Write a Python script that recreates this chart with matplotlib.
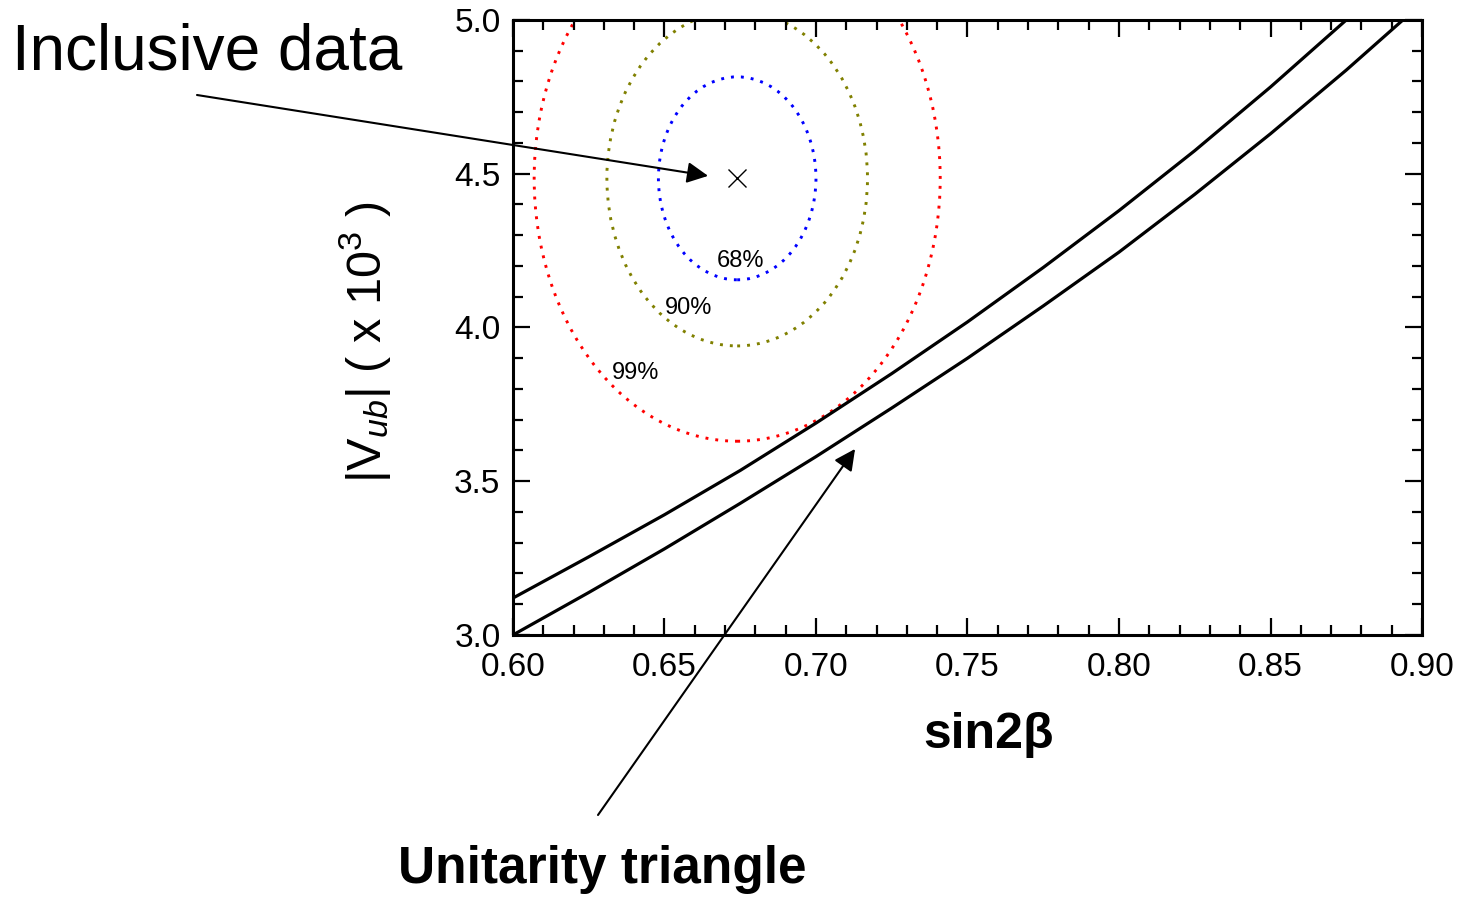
import matplotlib
matplotlib.use("Agg")
import matplotlib.pyplot as plt
from matplotlib.patches import Ellipse
from matplotlib.ticker import MultipleLocator, FormatStrFormatter

plt.rcParams['font.family'] = ['Liberation Sans', 'DejaVu Sans']
plt.rcParams['mathtext.fontset'] = 'custom'
plt.rcParams['mathtext.rm'] = 'Liberation Sans'
plt.rcParams['mathtext.it'] = 'Liberation Sans:italic'

# inclusive |Vub| vs sin2beta measurement
center_x = 0.674
center_y = 4.485
cl_labels = ['68%', '90%', '99%']
half_width = [0.026, 0.043, 0.067]
half_height = [0.33, 0.545, 0.855]
cl_colors = ['#0000ff', '#808000', '#ff0000']
label_x = [0.675, 0.658, 0.6405]
label_y = [4.216, 4.063, 3.852]

# unitarity triangle band edges
band_x = [0.600, 0.625, 0.650, 0.675, 0.700, 0.725, 0.750, 0.775, 0.800, 0.825, 0.850, 0.875, 0.900]
upper_y = [3.120, 3.254, 3.391, 3.535, 3.689, 3.850, 4.018, 4.195, 4.380, 4.575, 4.782, 5.000, 5.228]
lower_y = [3.000, 3.138, 3.280, 3.428, 3.580, 3.738, 3.900, 4.070, 4.245, 4.433, 4.630, 4.837, 5.055]

fig = plt.figure(figsize=(14.66, 9.08), dpi=100)
ax = fig.add_axes([0.3499, 0.3007, 0.6201, 0.6773])

for w, h, c in zip(half_width, half_height, cl_colors):
    ax.add_patch(Ellipse((center_x, center_y), 2 * w, 2 * h, fill=False,
                         edgecolor=c, lw=2.1, linestyle=(0, (1.0, 2.4))))
for t, lx, ly in zip(cl_labels, label_x, label_y):
    ax.text(lx, ly, t, fontsize=17, ha='center', va='center')

ax.plot([center_x], [center_y], marker='x', color='black', ms=13, mew=1.0, ls='none')

ax.plot(band_x, upper_y, color='black', lw=2.3, solid_joinstyle='round')
ax.plot(band_x, lower_y, color='black', lw=2.3, solid_joinstyle='round')

ax.set_xlim(0.60, 0.90)
ax.set_ylim(3.0, 5.0)
ax.xaxis.set_major_locator(MultipleLocator(0.05))
ax.xaxis.set_minor_locator(MultipleLocator(0.01))
ax.yaxis.set_major_locator(MultipleLocator(0.5))
ax.yaxis.set_minor_locator(MultipleLocator(0.1))
ax.xaxis.set_major_formatter(FormatStrFormatter('%.2f'))
ax.yaxis.set_major_formatter(FormatStrFormatter('%.1f'))
ax.tick_params(which='both', direction='in', top=True, right=True, width=1.6, labelsize=24)
ax.tick_params(which='major', length=12)
ax.tick_params(which='minor', length=7)
ax.tick_params(axis='y', pad=9)
ax.tick_params(axis='x', pad=12)
for s in ax.spines.values():
    s.set_linewidth(2.2)

# axis titles placed in figure coordinates
fig.text(989 / 1466, 1 - 748 / 908, 'sin2\u03b2', fontsize=36, fontweight='bold',
         ha='center', va='baseline')
fig.text(365 / 1466, 1 - 342 / 908, r'$|\mathrm{V}_{ub}|$ ( x 10$^{3}$ )', fontsize=35,
         rotation=90, ha='center', va='center')

fig.text(12 / 1466, 1 - 70 / 908, 'Inclusive data', fontsize=46, ha='left', va='baseline')
fig.text(602 / 1466, 1 - 883 / 908, 'Unitarity triangle', fontsize=37, fontweight='bold',
         ha='center', va='baseline')

arrow = dict(arrowstyle='-|>', color='black', lw=1.5, mutation_scale=32, shrinkA=0, shrinkB=0)
ax.annotate('', xy=(0.6644, 4.493), xycoords='data',
            xytext=(197 / 1466, 1 - 95 / 908), textcoords='figure fraction',
            arrowprops=arrow, annotation_clip=False)
ax.annotate('', xy=(0.7129, 3.605), xycoords='data',
            xytext=(598 / 1466, 1 - 815 / 908), textcoords='figure fraction',
            arrowprops=arrow, annotation_clip=False)

fig.savefig('out.png', dpi=100)
